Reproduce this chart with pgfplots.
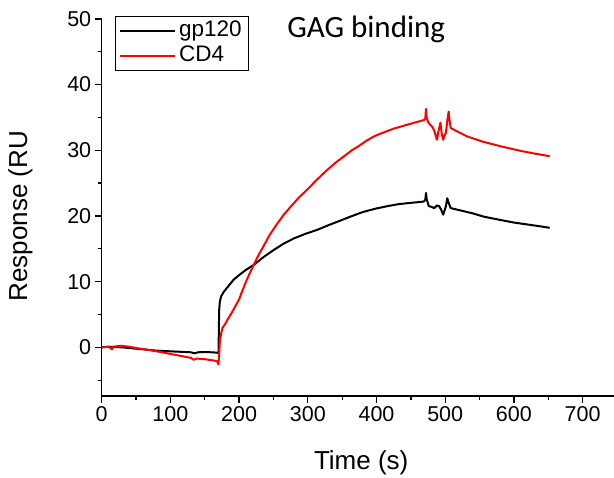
\documentclass[border=0pt]{standalone}
\usepackage{fontspec}
\setmainfont{Liberation Sans}
\newfontfamily\calibri{Carlito}
\usepackage{pgfplots}
\pgfplotsset{compat=1.18}

\begin{document}
\begin{tikzpicture}
\begin{axis}[
  name=ax,
  scale only axis,
  width=513.9pt, height=377.1pt,
  xmin=0, xmax=748,
  ymin=-7.4, ymax=50,
  axis x line=bottom, axis y line=left,
  axis line style={-, line width=1.3pt},
  tick align=outside,
  xtick={0,100,...,700},
  ytick={0,10,...,50},
  minor xtick={50,150,...,750},
  minor ytick={-5,5,15,...,45},
  major tick length=7pt,
  minor tick length=4pt,
  every tick/.style={line width=1.3pt, black},
  /pgf/number format/assume math mode=true,
  ticklabel style={font=\fontsize{21.5}{24}\selectfont},
  xlabel={Time (s)},
  ylabel={Response (RU},
  label style={font=\fontsize{26}{30}\selectfont},
  xlabel style={at={(axis description cs:0.505,-0.196)}, anchor=base},
  ylabel style={at={(axis description cs:-0.158,0.477)}, anchor=center},
  legend style={at={(axis description cs:0.026,1.008)}, anchor=north west,
    draw=black, line width=0.8pt, font=\fontsize{22.5}{24}\selectfont,
    inner xsep=3pt, inner ysep=2pt,
    nodes={text height=16pt, text depth=5pt, inner xsep=3.5pt}},
  legend cell align=left,
  legend image code/.code={\draw[#1, line width=2.2pt] (0pt,0pt) -- (55pt,0pt);},
  clip=false,
]
\addplot[black, line width=2pt, line join=round] coordinates {
(0,0) (10,0.1) (20,0.05) (30,0.0) (40,-0.1) (50,-0.2) (60,-0.3) (70,-0.4)
(80,-0.5) (90,-0.55) (100,-0.6) (110,-0.65) (120,-0.7) (130,-0.75) (135,-0.9)
(140,-0.75) (150,-0.7) (160,-0.75) (168,-0.8) (170,-0.9) (171,5.7) (172,7.0)
(174,7.8) (178,8.5) (185,9.4) (192,10.3) (200,11.0) (210,11.8) (222,12.6)
(235,13.7) (250,14.8) (265,15.8) (280,16.6) (297,17.3) (314,17.9)
(330,18.6) (345,19.2) (362,19.9) (380,20.6) (398,21.1) (416,21.5) (432,21.8)
(450,22.0) (460,22.1) (469,22.2) (471,22.5) (472,23.5) (473,22.6) (476,21.5)
(480,21.4) (484,21.2) (488,21.6) (491,21.5) (494,21.0) (497,20.2) (499,20.8)
(501,21.5) (503,22.7) (505,22.0) (508,21.2) (520,20.9) (540,20.4) (556,19.9)
(580,19.4) (600,19.0) (620,18.7) (640,18.4) (652,18.2)
};
\addlegendentry{gp120}
\addplot[red, line width=2pt, line join=round] coordinates {
(0,0) (10,0.1) (15,-0.3) (17,0.1) (28,0.25) (40,0.1) (50,-0.1) (66,-0.35)
(80,-0.6) (100,-1.0) (115,-1.3) (130,-1.6) (134,-1.9) (138,-1.7) (150,-1.8)
(160,-1.95) (168,-2.1) (170,-2.6) (171,-1.0) (172,1.0) (174,2.2) (176,3.0)
(180,3.6) (183,4.2) (190,5.4) (200,7.3) (205,8.7) (210,10.0) (216,11.4)
(222,12.7) (228,14.0) (235,15.3) (245,17.2) (256,18.9) (265,20.2) (275,21.4)
(287,22.8) (299,24.0) (312,25.4) (325,26.7) (339,28.0) (353,29.1) (364,30.0)
(375,30.7) (386,31.5) (396,32.1) (405,32.5) (415,32.9) (425,33.3) (435,33.6)
(445,33.9) (455,34.2) (462,34.4) (469,34.6) (471,34.8) (472,36.3) (473,35.0)
(475,34.3) (478,33.9) (481,33.6) (484,33.0) (486,32.3) (488,31.6) (490,32.8)
(493,34.2) (495,32.5) (497,31.6) (499,32.3) (501,32.6) (503,34.5) (505,35.9)
(506,34.8) (508,33.4) (515,33.0) (532,32.1) (555,31.3) (581,30.6) (610,29.9)
(630,29.5) (652,29.1)
};
\addlegendentry{CD4}
\node[anchor=base west, font=\calibri\fontsize{31}{36}\selectfont] at (axis cs:265,47.1) {GAG binding};
\end{axis}
\pgfresetboundingbox
\path[use as bounding box] ([shift={(-101.7pt,-82pt)}]ax.south west) rectangle ([shift={(512.3pt,396pt)}]ax.south west);
\end{tikzpicture}
\end{document}
